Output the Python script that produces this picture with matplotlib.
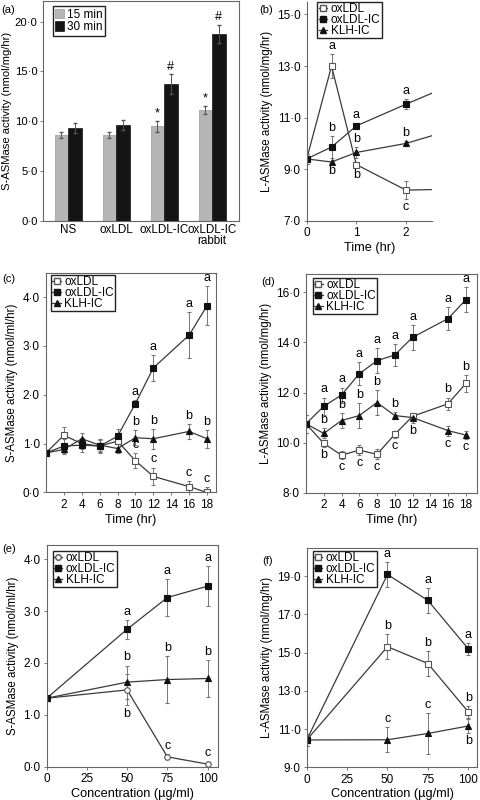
import matplotlib
matplotlib.use("Agg")
import matplotlib.pyplot as plt
import numpy as np
from matplotlib.ticker import FuncFormatter

plt.rcParams["font.family"] = ["Liberation Sans", "DejaVu Sans"]
plt.rcParams["font.size"] = 8.5

# ---- (a) bar chart ----
A_GROUPS = ["NS", "oxLDL", "oxLDL-IC", "oxLDL-IC\nrabbit"]
A_15 = [8.6, 8.6, 9.5, 11.1]
A_15_ERR = [0.3, 0.3, 0.55, 0.4]
A_30 = [9.3, 9.65, 13.7, 18.8]
A_30_ERR = [0.5, 0.5, 1.0, 0.9]
A_15_MARK = ["", "", "*", "*"]
A_30_MARK = ["", "", "#", "#"]

# ---- (b) L-ASMase vs time (short) ----
B_TIME = [0, 0.5, 1, 2, 4]
B_OX = [9.4, 13.0, 9.18, 8.19, 8.27]
B_OX_ERR = [0.2, 0.48, 0.1, 0.35, 0.1]
B_OX_LET = ["", "a", "b", "c", ""]
B_OX_SIDE = ["", "+", "-", "-", ""]
B_IC = [9.4, 9.86, 10.68, 11.52, 13.16]
B_IC_ERR = [0.2, 0.42, 0.1, 0.2, 0.1]
B_IC_LET = ["", "b", "a", "a", ""]
B_IC_SIDE = ["", "+", "+", "+", ""]
B_KLH = [9.4, 9.28, 9.65, 10.0, 11.14]
B_KLH_ERR = [0.2, 0.05, 0.2, 0.1, 0.1]
B_KLH_LET = ["", "b", "b", "b", ""]
B_KLH_SIDE = ["", "-", "+", "+", ""]

# ---- (c) S-ASMase vs time ----
C_TIME = [0, 2, 4, 6, 8, 10, 12, 16, 18]
C_OX = [0.81, 1.17, 1.0, 0.95, 1.05, 0.65, 0.33, 0.12, 0.0]
C_OX_ERR = [0.05, 0.17, 0.12, 0.12, 0.12, 0.15, 0.18, 0.12, 0.12]
C_OX_LET = ["", "", "", "", "", "c", "c", "c", "c"]
C_OX_SIDE = ["", "", "", "", "", "+", "+", "+", "+"]
C_IC = [0.81, 0.95, 0.97, 0.95, 1.15, 1.82, 2.55, 3.22, 3.82]
C_IC_ERR = [0.05, 0.15, 0.15, 0.15, 0.15, 0.08, 0.27, 0.47, 0.4]
C_IC_LET = ["", "", "", "", "", "a", "a", "a", "a"]
C_IC_SIDE = ["", "", "", "", "", "+", "+", "+", "+"]
C_KLH = [0.81, 0.88, 1.1, 0.97, 0.9, 1.12, 1.1, 1.25, 1.1]
C_KLH_ERR = [0.05, 0.1, 0.12, 0.12, 0.1, 0.15, 0.2, 0.15, 0.18]
C_KLH_LET = ["", "", "", "", "", "b", "b", "b", "b"]
C_KLH_SIDE = ["", "", "", "", "", "+", "+", "+", "+"]

# ---- (d) L-ASMase vs time ----
D_TIME = [0, 2, 4, 6, 8, 10, 12, 16, 18]
D_OX = [10.75, 9.97, 9.5, 9.7, 9.53, 10.33, 11.05, 11.55, 12.36]
D_OX_ERR = [0.35, 0.15, 0.15, 0.2, 0.2, 0.15, 0.1, 0.25, 0.35]
D_OX_LET = ["", "b", "c", "c", "c", "c", "", "b", "b"]
D_OX_SIDE = ["", "-", "-", "-", "-", "-", "", "+", "+"]
D_IC = [10.75, 11.45, 11.9, 12.75, 13.27, 13.5, 14.2, 14.95, 15.7]
D_IC_ERR = [0.35, 0.35, 0.3, 0.45, 0.5, 0.45, 0.5, 0.45, 0.5]
D_IC_LET = ["", "a", "a", "a", "a", "a", "a", "a", "a"]
D_IC_SIDE = ["", "+", "+", "+", "+", "+", "+", "+", "+"]
D_KLH = [10.75, 10.37, 10.88, 11.08, 11.6, 11.08, 11.0, 10.48, 10.3]
D_KLH_ERR = [0.35, 0.2, 0.3, 0.5, 0.5, 0.15, 0.2, 0.2, 0.15]
D_KLH_LET = ["", "b", "b", "b", "b", "b", "b", "c", "c"]
D_KLH_SIDE = ["", "+", "+", "+", "+", "+", "-", "-", "-"]

# ---- (e) S-ASMase vs concentration ----
E_CONC = [0, 50, 75, 100]
E_OX = [1.32, 1.48, 0.19, 0.05]
E_OX_ERR = [0.03, 0.3, 0.05, 0.05]
E_OX_LET = ["", "b", "c", "c"]
E_OX_SIDE = ["", "-", "+", "+"]
E_IC = [1.32, 2.65, 3.26, 3.48]
E_IC_ERR = [0.03, 0.18, 0.35, 0.38]
E_IC_LET = ["", "a", "a", "a"]
E_IC_SIDE = ["", "+", "+", "+"]
E_KLH = [1.32, 1.63, 1.68, 1.7]
E_KLH_ERR = [0.03, 0.32, 0.45, 0.35]
E_KLH_LET = ["", "b", "b", "b"]
E_KLH_SIDE = ["", "+", "+", "+"]

# ---- (f) L-ASMase vs concentration ----
F_CONC = [0, 50, 75, 100]
F_OX = [10.43, 15.31, 14.43, 11.9]
F_OX_ERR = [0.3, 0.65, 0.65, 0.3]
F_OX_LET = ["", "b", "b", "b"]
F_OX_SIDE = ["", "+", "+", "+"]
F_IC = [10.43, 19.09, 17.73, 15.2]
F_IC_ERR = [0.3, 0.65, 0.65, 0.3]
F_IC_LET = ["", "a", "a", "a"]
F_IC_SIDE = ["", "+", "+", "+"]
F_KLH = [10.43, 10.44, 10.77, 11.16]
F_KLH_ERR = [0.3, 0.65, 1.07, 0.35]
F_KLH_LET = ["", "c", "c", "b"]
F_KLH_SIDE = ["", "+", "+", "-"]

SERIES_NAMES = ["oxLDL", "oxLDL-IC", "KLH-IC"]

LINE_C = "#3a3a3a"
ERR_C = "#777777"
SPINE_C = "#666666"
TICK_FS = 8.5
LETTER_FS = 9
LEGEND_FS = 8.5
YLABEL_FS = 8.3
XLABEL_FS = 9.2

dot_fmt = FuncFormatter(lambda v, p: f"{v:.1f}".replace(".", "\u00b7"))


def style_axes(ax):
    for s in ax.spines.values():
        s.set_color(SPINE_C)
        s.set_linewidth(0.8)
    ax.tick_params(direction="out", length=2.5, width=0.6, color=SPINE_C,
                   labelsize=TICK_FS, pad=2)


def draw_series(ax, x, y, err, letters, sides, marker, face, edge, ms):
    ax.errorbar(x, y, yerr=err, fmt="-", color=LINE_C, lw=0.9,
                marker=marker, mfc=face, mec=edge, ms=ms, mew=0.8,
                ecolor=ERR_C, elinewidth=0.7, capsize=1.2, capthick=0.6)
    for xi, yi, ei, lt, sd in zip(x, y, err, letters, sides):
        if not lt:
            continue
        if sd == "+":
            ax.annotate(lt, (xi, yi + ei), xytext=(0, 1.5), textcoords="offset points",
                        ha="center", va="bottom", fontsize=LETTER_FS)
        else:
            ax.annotate(lt, (xi, yi - ei), xytext=(0, -1.5), textcoords="offset points",
                        ha="center", va="top", fontsize=LETTER_FS)


def add_legend(ax, handles, labels, anchor, **kw):
    leg = ax.legend(handles, labels, loc="upper left", fontsize=LEGEND_FS,
                    handletextpad=0.3, borderpad=0.12, labelspacing=-0.1,
                    fancybox=False, framealpha=1, bbox_to_anchor=anchor,
                    borderaxespad=0, **kw)
    leg.get_frame().set_edgecolor("#222222")
    leg.get_frame().set_linewidth(1.0)
    return leg


def line_panel(ax, x, groups, anchor, ox_marker="s"):
    ox, ic, klh = groups
    draw_series(ax, x, *ox, ox_marker, "white", "#555555", 4)
    draw_series(ax, x, *klh, "^", "#111111", "#111111", 4)
    draw_series(ax, x, *ic, "s", "#111111", "#111111", 4)
    handles = [
        plt.Line2D([], [], color=LINE_C, lw=0.9, marker=ox_marker, mfc="white",
                   mec="#555555", ms=4),
        plt.Line2D([], [], color=LINE_C, lw=0.9, marker="s", mfc="#111111",
                   mec="#111111", ms=4),
        plt.Line2D([], [], color=LINE_C, lw=0.9, marker="^", mfc="#111111",
                   mec="#111111", ms=4),
    ]
    add_legend(ax, handles, SERIES_NAMES, anchor, handlelength=0.7)
    style_axes(ax)
    ax.yaxis.set_major_formatter(dot_fmt)


fig = plt.figure(figsize=(4.8, 8), dpi=100)

# (a)
ax = fig.add_axes([0.090, 0.724, 0.408, 0.275])
xa = np.arange(len(A_GROUPS))
bw = 0.28
ax.bar(xa - bw / 2, A_15, bw, yerr=A_15_ERR, color="#b5b5b5", edgecolor="#999999",
       linewidth=0.5, ecolor="#555555", error_kw=dict(elinewidth=0.7, capsize=1.2),
       label="15 min")
ax.bar(xa + bw / 2, A_30, bw, yerr=A_30_ERR, color="#141414", edgecolor="#141414",
       linewidth=0.5, ecolor="#555555", error_kw=dict(elinewidth=0.7, capsize=1.2),
       label="30 min")
for xi, v, e, m in zip(xa - bw / 2, A_15, A_15_ERR, A_15_MARK):
    if m:
        ax.annotate(m, (xi, v + e), xytext=(0, 1), textcoords="offset points",
                    ha="center", va="bottom", fontsize=LETTER_FS)
for xi, v, e, m in zip(xa + bw / 2, A_30, A_30_ERR, A_30_MARK):
    if m:
        ax.annotate(m, (xi, v + e), xytext=(0, 1), textcoords="offset points",
                    ha="center", va="bottom", fontsize=LETTER_FS)
ax.set_xlim(-0.52, 3.56)
ax.set_ylim(0, 22.1)
ax.set_yticks([0, 5, 10, 15, 20])
ax.set_xticks(xa)
ax.set_xticklabels(A_GROUPS, linespacing=0.95)
ax.set_ylabel("S-ASMase activity (nmol/mg/hr)", fontsize=8.1)
ax.yaxis.set_label_coords(-0.158, 0.5)
style_axes(ax)
ax.tick_params(axis="x", length=0, labelsize=8.4)
ax.tick_params(axis="y", labelsize=8.1, pad=1.5)
ax.yaxis.set_major_formatter(dot_fmt)
h, l = ax.get_legend_handles_labels()
leg = ax.legend(h, l, loc="upper left", fontsize=LEGEND_FS, handlelength=0.7,
                handleheight=0.9, handletextpad=0.3, borderpad=0.2, labelspacing=0.05,
                fancybox=False, framealpha=1, bbox_to_anchor=(0.05, 0.975),
                borderaxespad=0)
leg.get_frame().set_edgecolor("#222222")
leg.get_frame().set_linewidth(1.0)

# (b)
ax = fig.add_axes([0.639, 0.724, 0.261, 0.274])
line_panel(ax, B_TIME, [
    (B_OX, B_OX_ERR, B_OX_LET, B_OX_SIDE),
    (B_IC, B_IC_ERR, B_IC_LET, B_IC_SIDE),
    (B_KLH, B_KLH_ERR, B_KLH_LET, B_KLH_SIDE),
], (0.085, 1.0))
ax.set_xlim(0, 2.525)
ax.set_ylim(7, 15.5)
ax.set_xticks([0, 1, 2])
ax.set_yticks([7, 9, 11, 13, 15])
ax.spines["right"].set_visible(False)
ax.spines["top"].set_visible(False)
ax.set_xlabel("Time (hr)", fontsize=XLABEL_FS, labelpad=2)
ax.set_ylabel("L-ASMase activity (nmol/mg/hr)", fontsize=YLABEL_FS, labelpad=3)

# (c)
ax = fig.add_axes([0.0958, 0.3844, 0.354, 0.2748])
line_panel(ax, C_TIME, [
    (C_OX, C_OX_ERR, C_OX_LET, C_OX_SIDE),
    (C_IC, C_IC_ERR, C_IC_LET, C_IC_SIDE),
    (C_KLH, C_KLH_ERR, C_KLH_LET, C_KLH_SIDE),
], (0.03, 0.99))
ax.set_xlim(0, 19)
ax.set_ylim(0, 4.5)
ax.set_xticks([2, 4, 6, 8, 10, 12, 14, 16, 18])
ax.set_yticks([0, 1, 2, 3, 4])
ax.set_xlabel("Time (hr)", fontsize=XLABEL_FS, labelpad=2)
ax.set_ylabel("S-ASMase activity (nmol/ml/hr)", fontsize=YLABEL_FS, labelpad=3)

# (d)
ax = fig.add_axes([0.6375, 0.3841, 0.356, 0.274])
line_panel(ax, D_TIME, [
    (D_OX, D_OX_ERR, D_OX_LET, D_OX_SIDE),
    (D_IC, D_IC_ERR, D_IC_LET, D_IC_SIDE),
    (D_KLH, D_KLH_ERR, D_KLH_LET, D_KLH_SIDE),
], (0.04, 0.98))
ax.set_xlim(0, 19.25)
ax.set_ylim(8, 16.75)
ax.set_xticks([2, 4, 6, 8, 10, 12, 14, 16, 18])
ax.set_yticks([8, 10, 12, 14, 16])
ax.set_xlabel("Time (hr)", fontsize=XLABEL_FS, labelpad=2)
ax.set_ylabel("L-ASMase activity (nmol/mg/hr)", fontsize=YLABEL_FS, labelpad=3)

# (e)
ax = fig.add_axes([0.0972, 0.0416, 0.3575, 0.277])
line_panel(ax, E_CONC, [
    (E_OX, E_OX_ERR, E_OX_LET, E_OX_SIDE),
    (E_IC, E_IC_ERR, E_IC_LET, E_IC_SIDE),
    (E_KLH, E_KLH_ERR, E_KLH_LET, E_KLH_SIDE),
], (0.035, 0.975), ox_marker="o")
ax.set_xlim(0, 106.6)
ax.set_ylim(0, 4.27)
ax.set_xticks([0, 25, 50, 75, 100])
ax.set_yticks([0, 1, 2, 3, 4])
ax.set_xlabel("Concentration (\u00b5g/ml)", fontsize=XLABEL_FS, labelpad=2)
ax.set_ylabel("S-ASMase activity (nmol/ml/hr)", fontsize=YLABEL_FS, labelpad=3)

# (f)
ax = fig.add_axes([0.639, 0.0409, 0.3554, 0.2747])
line_panel(ax, F_CONC, [
    (F_OX, F_OX_ERR, F_OX_LET, F_OX_SIDE),
    (F_IC, F_IC_ERR, F_IC_LET, F_IC_SIDE),
    (F_KLH, F_KLH_ERR, F_KLH_LET, F_KLH_SIDE),
], (0.035, 0.985))
ax.set_xlim(0, 105.6)
ax.set_ylim(9, 20.5)
ax.set_xticks([0, 25, 50, 75, 100])
ax.set_yticks([9, 11, 13, 15, 17, 19])
ax.set_xlabel("Concentration (\u00b5g/ml)", fontsize=XLABEL_FS, labelpad=2)
ax.set_ylabel("L-ASMase activity (nmol/mg/hr)", fontsize=YLABEL_FS, labelpad=3)

# panel letters
for lbl, px, py in [("(a)", 1, 10), ("(b)", 259, 10), ("(c)", 2, 279),
                    ("(d)", 261, 282), ("(e)", 2, 549), ("(f)", 262, 561)]:
    fig.text(px / 480, 1 - py / 800, lbl, fontsize=8, va="center", ha="left")

fig.savefig("out.png", dpi=100)
